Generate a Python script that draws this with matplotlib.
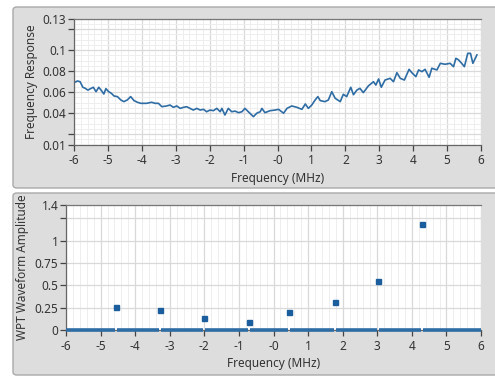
import matplotlib
matplotlib.use("Agg")
import matplotlib.pyplot as plt
from matplotlib.patches import FancyBboxPatch
from matplotlib.ticker import MultipleLocator
import numpy as np

plt.rcParams['font.family'] = ['Noto Sans', 'DejaVu Sans']

# ---- Top chart data: frequency response ----
resp_freq = [-6.00, -5.90, -5.82, -5.74, -5.67, -5.59, -5.51, -5.43, -5.35, -5.27,
             -5.19, -5.12, -5.06, -4.98, -4.90, -4.82, -4.72, -4.62, -4.53, -4.43,
             -4.33, -4.23, -4.13, -4.03, -3.86, -3.71, -3.61, -3.51, -3.41, -3.27,
             -3.17, -3.07, -2.97, -2.87, -2.77, -2.68, -2.58, -2.48, -2.38, -2.28,
             -2.18, -2.09, -1.99, -1.89, -1.79, -1.69, -1.64, -1.55, -1.45, -1.35,
             -1.25, -1.15, -1.05, -0.96, -0.86, -0.71, -0.61, -0.51, -0.46, -0.37,
             -0.22, -0.07, 0.03, 0.18, 0.28, 0.42, 0.57, 0.72, 0.82, 0.91,
             1.01, 1.11, 1.19, 1.26, 1.40, 1.50, 1.60, 1.70, 1.85, 1.94,
             2.04, 2.16, 2.24, 2.34, 2.43, 2.53, 2.68, 2.83, 2.90, 2.98,
             3.06, 3.17, 3.32, 3.42, 3.52, 3.62, 3.74, 3.88, 3.96, 4.08,
             4.16, 4.26, 4.35, 4.47, 4.55, 4.70, 4.80, 4.94, 5.09, 5.19,
             5.26, 5.34, 5.43, 5.51, 5.61, 5.69, 5.76, 5.88]
resp_val = [0.0690, 0.0707, 0.0700, 0.0647, 0.0637, 0.0620, 0.0634, 0.0647, 0.0605, 0.0647,
            0.0615, 0.0583, 0.0634, 0.0605, 0.0590, 0.0564, 0.0558, 0.0526, 0.0510, 0.0526,
            0.0558, 0.0520, 0.0504, 0.0494, 0.0494, 0.0504, 0.0494, 0.0494, 0.0462, 0.0469,
            0.0478, 0.0456, 0.0469, 0.0446, 0.0456, 0.0462, 0.0446, 0.0430, 0.0446, 0.0430,
            0.0437, 0.0414, 0.0430, 0.0424, 0.0446, 0.0414, 0.0446, 0.0383, 0.0446, 0.0414,
            0.0420, 0.0405, 0.0414, 0.0446, 0.0414, 0.0367, 0.0400, 0.0414, 0.0446, 0.0405,
            0.0424, 0.0430, 0.0437, 0.0400, 0.0446, 0.0469, 0.0456, 0.0437, 0.0488, 0.0446,
            0.0478, 0.0526, 0.0558, 0.0520, 0.0510, 0.0526, 0.0605, 0.0542, 0.0510, 0.0580,
            0.0558, 0.0647, 0.0576, 0.0620, 0.0637, 0.0596, 0.0660, 0.0700, 0.0668, 0.0726,
            0.0647, 0.0716, 0.0732, 0.0700, 0.0786, 0.0732, 0.0716, 0.0818, 0.0786, 0.0748,
            0.0812, 0.0796, 0.0818, 0.0742, 0.0828, 0.0812, 0.0875, 0.0866, 0.0875, 0.0843,
            0.0923, 0.0907, 0.0875, 0.0843, 0.0970, 0.0970, 0.0875, 0.0955]

# ---- Bottom chart data: WPT waveform amplitude ----
wpt_freq = [-4.55, -3.28, -2.00, -0.72, 0.45, 1.77, 3.03, 4.30]
wpt_amp = [0.26, 0.22, 0.13, 0.09, 0.205, 0.31, 0.55, 1.19]

x_ticks = [-6, -5, -4, -3, -2, -1, 0, 1, 2, 3, 4, 5, 6]
x_labels = ['-6', '-5', '-4', '-3', '-2', '-1', '-0', '1', '2', '3', '4', '5', '6']
top_yticks = [0.01, 0.02, 0.04, 0.06, 0.08, 0.1, 0.12, 0.13]
top_ylabels = ['0.01', '', '0.04', '0.06', '0.08', '0.1', '', '0.13']
bot_yticks = [0, 0.25, 0.5, 0.75, 1, 1.25, 1.4]
bot_ylabels = ['0', '0.25', '0.5', '0.75', '1', '', '1.4']

line_color = '#2e6ca4'
mark_color = '#1b5e9e'
W, H = 495, 378
FS = 8.5
fig = plt.figure(figsize=(W / 100, H / 100), dpi=100)
fig.patch.set_facecolor('white')

def panel(x0, y0, x1, y1):
    p = FancyBboxPatch((x0 / W, 1 - y1 / H), (x1 - x0) / W, (y1 - y0) / H,
                       boxstyle="round,pad=0,rounding_size=0.008",
                       transform=fig.transFigure, facecolor='#dddddd',
                       edgecolor='#a9a9a9', linewidth=1.0, zorder=-5)
    fig.patches.append(p)

panel(13, 7, 505, 188)
panel(13, 193, 505, 375)

def style(ax, ymin, ymax, yticks, ylabels, minor_y):
    ax.set_facecolor('white')
    ax.set_xlim(-6, 6)
    ax.set_ylim(ymin, ymax)
    ax.set_xticks(x_ticks)
    ax.set_xticklabels(x_labels)
    ax.set_yticks(yticks)
    ax.set_yticklabels(ylabels)
    ax.xaxis.set_minor_locator(MultipleLocator(0.2))
    if minor_y:
        ax.yaxis.set_minor_locator(MultipleLocator(minor_y))
    ax.grid(which='major', color='#d9d9d9', linewidth=0.9)
    ax.grid(which='minor', color='#eeeeee', linewidth=0.7)
    ax.set_axisbelow(True)
    ax.tick_params(which='major', direction='out', length=4, width=0.9,
                   color='#444444', labelsize=FS, labelcolor='#333333')
    ax.tick_params(axis='x', which='major', pad=3)
    ax.tick_params(axis='y', which='major', pad=1.5)
    ax.tick_params(which='minor', length=0)
    for s in ['left', 'bottom']:
        ax.spines[s].set_color('#666666')
        ax.spines[s].set_linewidth(0.9)
    ax.spines['top'].set_color('#777777')
    ax.spines['top'].set_linewidth(0.9)
    ax.spines['right'].set_color('#dddddd')
    ax.set_xlabel('Frequency (MHz)', fontsize=FS, color='#333333', labelpad=3)

ax1 = fig.add_axes([74 / W, 1 - 144.7 / H, (481 - 74) / W, (144.7 - 18.7) / H])
style(ax1, 0.01, 0.13, top_yticks, top_ylabels, 0.005)
ax1.plot(resp_freq, resp_val, color=line_color, linewidth=1.2)
ax1.set_ylabel('Frequency Response', fontsize=FS, color='#333333', labelpad=3)

ax2 = fig.add_axes([66 / W, 1 - 330 / H, (481 - 66) / W, (330 - 205) / H])
style(ax2, 0, 1.4, bot_yticks, bot_ylabels, None)
ax2.set_ylabel('WPT Waveform Amplitude', fontsize=FS, color='#333333', labelpad=4)

# zero baseline broken at each marker position
bounds = [-6] + wpt_freq + [6]
gap = 0.03
for i in range(len(bounds) - 1):
    a = bounds[i] + (gap if i > 0 else 0)
    b = bounds[i + 1] - (gap if i < len(bounds) - 2 else 0)
    ax2.plot([a, b], [0, 0], color=line_color, linewidth=2.6,
             solid_capstyle='butt', clip_on=False, zorder=3)
ax2.plot(wpt_freq, wpt_amp, linestyle='none', marker='s', markersize=3.6,
         color=mark_color, zorder=4)

fig.savefig('out.png', dpi=100, facecolor=fig.get_facecolor())
